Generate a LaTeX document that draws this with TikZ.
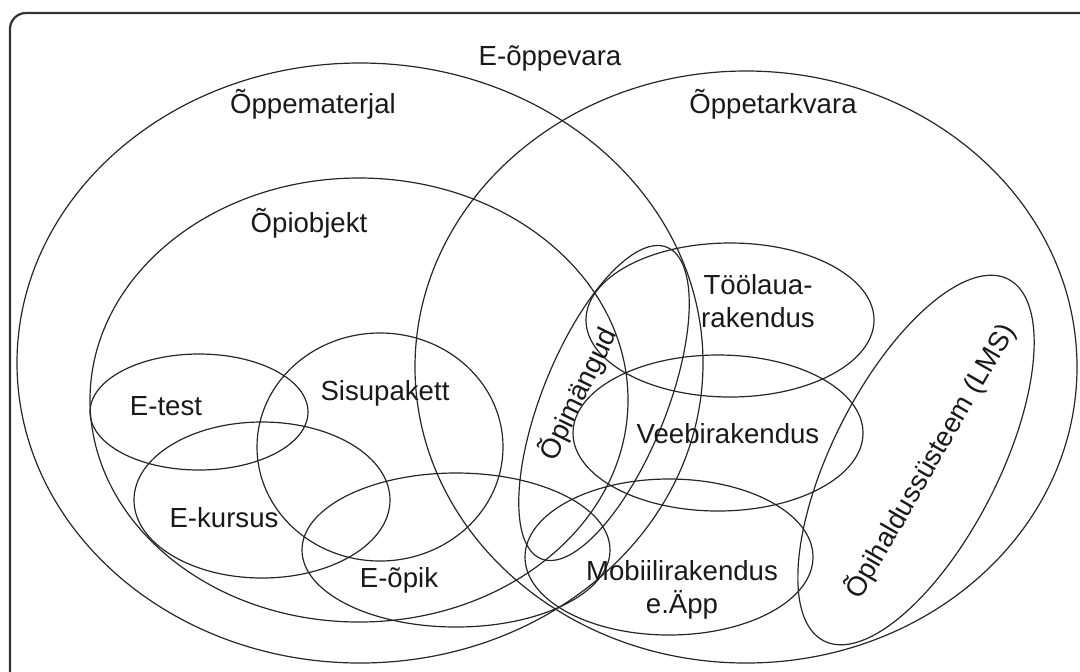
\documentclass[tikz,border=0pt]{standalone}
\usepackage{fontspec}
\setmainfont{Liberation Sans}
\begin{document}
\begin{tikzpicture}[x=0.5pt,y=-0.5pt,
  set/.style={draw=black!85, line width=0.6pt},
  lbl/.style={font=\fontsize{13.8}{16.5}\selectfont, inner sep=0pt, align=center, text=black!90}]
\useasboundingbox (0,0) rectangle (1080,671);
\clip (0,0) rectangle (1080,671);
% frame
\draw[line width=1.1pt, rounded corners=8pt, draw=black!80] (10,13) rectangle (1100,700);
% big sets
\draw[set] (360,363) ellipse [x radius=343, y radius=300];
\draw[set] (746,367) ellipse [x radius=331, y radius=296];
\draw[set] (359,400) ellipse [x radius=269, y radius=222];
% learning objects
\draw[set] (199,412) ellipse [x radius=109, y radius=58];
\draw[set] (380,447) ellipse [x radius=123, y radius=114];
\draw[set] (262,500) ellipse [x radius=128, y radius=78];
\draw[set] (456,550) ellipse [x radius=154, y radius=77];
% software
\draw[set] (730,320) ellipse [x radius=144, y radius=77];
\draw[set] (718,433) ellipse [x radius=145, y radius=78];
\draw[set] (669,557) ellipse [x radius=144, y radius=78];
\draw[set, rotate around={68:(604,403)}] (604,403) ellipse [x radius=168, y radius=62];
\draw[set, rotate around={63:(916,460)}] (916,460) ellipse [x radius=203, y radius=83];
% labels
\node[lbl, anchor=base] (evara) at (550,65) {E-õppevara};
\node[lbl, anchor=base] (omat) at (313,113) {Õppematerjal};
\node[lbl, anchor=base] (otark) at (773,113) {Õppetarkvara};
\node[lbl, anchor=base] (oobj) at (309,232) {Õpiobjekt};
\node[lbl, anchor=base] (etest) at (166,415) {E-test};
\node[lbl, anchor=base] (sisu) at (385,400) {Sisupakett};
\node[lbl, anchor=base] (ekur) at (224,527) {E-kursus};
\node[lbl, anchor=base] (eopik) at (399,587) {E-õpik};
\node[lbl] (tool) at (758,301) {Töölaua-\\rakendus};
\node[lbl, anchor=base] (veeb) at (728,443) {Veebirakendus};
\node[lbl] (mobi) at (682,590) {Mobiilirakendus\\e.Äpp};
\node[lbl, rotate=64] (omang) at (578,394) {Õpimängud};
\node[lbl, rotate=60] (lms) at (930,461) {Õpihaldussüsteem (LMS)};
\end{tikzpicture}
\end{document}
